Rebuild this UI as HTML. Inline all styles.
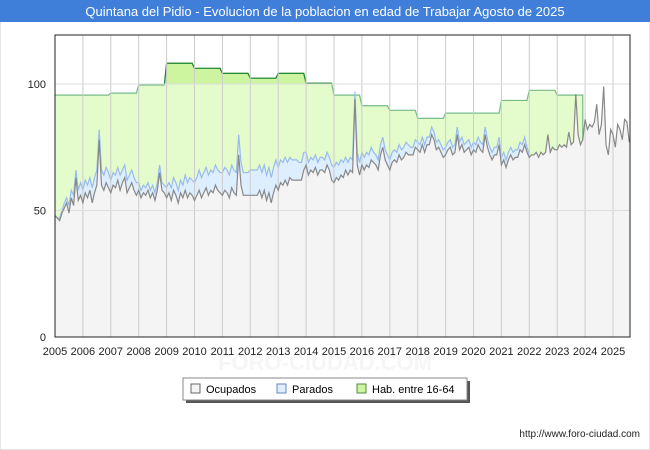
<!DOCTYPE html>
<html><head><meta charset="utf-8"><style>
body{margin:0;background:#fff;font-family:"Liberation Sans",sans-serif}
#wrap{position:relative;width:650px;height:450px;overflow:hidden}
</style></head><body>
<div id="wrap">
<svg id="svg" width="650" height="450" xmlns="http://www.w3.org/2000/svg">
<rect x="0" y="0" width="650" height="450" fill="#fff" stroke="#ccc"/>
<rect x="0" y="0" width="650" height="22" fill="#3f7fd9"/>
<text x="325" y="16" text-anchor="middle" font-size="13" fill="#fff">Quintana del Pidio - Evolucion de la poblacion en edad de Trabajar Agosto de 2025</text>
<text x="325" y="370" text-anchor="middle" font-size="22" font-weight="bold" fill="#f6f6f6">FORO-CIUDAD.COM</text>
<g id="plot"></g>
<rect x="186" y="381" width="284" height="22" fill="#555"/>
<rect x="183" y="378" width="284" height="22" fill="#fff" stroke="#888"/>
<rect x="191" y="384" width="9" height="9" fill="#f4f4f4" stroke="#666"/>
<text x="206" y="393" font-size="11">Ocupados</text>
<rect x="277" y="384" width="9" height="9" fill="#ddeeff" stroke="#6688bb"/>
<text x="292" y="393" font-size="11">Parados</text>
<rect x="357" y="384" width="9" height="9" fill="#ccf5a0" stroke="#558844"/>
<text x="372" y="393" font-size="11">Hab. entre 16-64</text>
<text x="640" y="437" text-anchor="end" font-size="10" fill="#222">http://www.foro-ciudad.com</text>
</svg>
</div>
<script>
const years=[2005,2006,2007,2008,2009,2010,2011,2012,2013,2014,2015,2016,2017,2018,2019,2020,2021,2022,2023,2024,2025];
const yTicks=[0,50,100];
const hab=[95.6,95.6,96.4,99.6,108.2,106.2,104.2,102.3,104.2,100.3,95.6,91.4,89.6,86.4,88.5,88.5,93.5,97.5,95.6];
const ocupados=[
48,47,46,49,51,53,49,55,52,63,54,56,
53,57,55,58,53,57,60,78,60,58,61,59,
57,60,59,62,58,61,63,57,59,61,58,56,
58,55,57,56,58,55,57,54,58,65,58,57,
55,57,54,58,56,53,57,55,58,55,57,56,
54,56,58,55,57,59,56,58,57,60,58,57,
56,58,57,55,59,57,56,72,60,56,56,56,
56,56,56,56,58,55,58,54,57,53,57,60,
58,61,60,62,60,63,62,62,62,62,62,66,
68,64,66,65,67,64,66,66,65,68,66,62,
61,63,62,64,63,66,64,66,65,94,68,64,
68,66,68,67,70,69,68,66,72,75,70,68,
66,69,70,69,72,70,71,73,72,72,72,75,
74,73,76,73,76,76,80,78,74,75,73,71,
72,74,75,72,73,80,74,76,73,74,75,72,
74,73,76,74,73,80,75,72,70,72,72,76,
68,70,67,70,72,70,71,71,74,73,76,73,
71,72,72,73,71,73,72,73,80,73,75,74,
74,76,75,76,75,81,76,77,96,80,76,78,
86,82,84,83,85,92,80,84,99,76,72,82,
80,75,84,82,78,86,85,77];
const parados=[
0,0,1,1,2,2,3,3,4,3,4,5,
5,5,5,5,6,6,6,4,6,6,6,6,
5,5,5,5,6,5,5,5,5,5,5,5,
3,3,3,3,3,3,3,3,3,3,3,3,
4,4,5,5,5,5,5,5,6,6,6,6,
7,7,8,8,8,8,8,8,8,8,8,8,
9,9,9,9,9,9,9,8,9,9,9,9,
10,10,10,10,10,10,10,10,10,10,10,10,
9,9,9,9,9,8,8,8,8,7,7,7,
5,5,5,5,5,5,5,5,5,5,5,6,
6,6,6,6,6,5,5,5,5,3,5,5,
5,5,5,5,5,4,4,4,4,4,4,4,
4,4,4,4,4,4,4,4,4,3,3,3,
3,3,3,3,3,3,3,3,3,3,3,3,
3,3,3,3,3,3,3,3,3,3,3,3,
3,3,3,3,3,3,3,3,3,3,3,3,
3,3,3,3,3,3,3,3,3,3,3,2,
1];
const NS='http://www.w3.org/2000/svg';
const X0=55,X1=630,Y0=337,YT=35,PX=27.9;
function xm(i){return X0+i*PX/12;}
function xy(y){return X0+(y-2005)*PX;}
function yv(v){return Y0-v*(Y0-84)/100;}
const g=document.getElementById('plot');
function mk(t,a){const e=document.createElementNS(NS,t);for(const k in a)e.setAttribute(k,a[k]);g.appendChild(e);return e;}
const bg=mk('rect',{x:X0,y:YT,width:X1-X0,height:Y0-YT,fill:'#fff'});


const defs=mk('defs',{});
const cp=document.createElementNS(NS,'clipPath');cp.setAttribute('id','above');
const cr=document.createElementNS(NS,'rect');cr.setAttribute('x',X0);cr.setAttribute('y',YT);cr.setAttribute('width',X1-X0);cr.setAttribute('height',yv(100)-YT);
cp.appendChild(cr);defs.appendChild(cp);
const habPts=[];
hab.forEach((v,k)=>{for(let m=0;m<12;m++)habPts.push([xm(k*12+m),yv(v)]);});
const lastHx=habPts[habPts.length-1][0];
const habPoly=habPts.map(p=>p.join(',')).join(' ')+' '+lastHx+','+yv(ocupados[hab.length*12-1])+' '+lastHx+','+Y0+' '+X0+','+Y0;
const h1=mk('polygon',{points:habPoly,fill:'#e4fccc'});


const h2=mk('polygon',{points:habPoly,fill:'#cdf5a0','clip-path':'url(#above)'});


const hl=mk('polyline',{points:habPts.map(p=>p.join(',')).join(' ')+' '+lastHx+','+yv(ocupados[hab.length*12-1]),fill:'none',stroke:'#77bb88','stroke-width':1.2});


const hl2=mk('polyline',{points:habPts.map(p=>p.join(',')).join(' '),fill:'none',stroke:'#228833','stroke-width':1.2,'clip-path':'url(#above)'});


const act=parados.map((p,i)=>[xm(i),yv(ocupados[i]+p)]);
const ap=mk('polygon',{points:act.map(p=>p.join(',')).join(' ')+' '+act[act.length-1][0]+','+Y0+' '+X0+','+Y0,fill:'#ddeeff'});


const al=mk('polyline',{points:act.map(p=>p.join(',')).join(' '),fill:'none',stroke:'#99bbee','stroke-width':1.2});


const oc=ocupados.map((v,i)=>[xm(i),yv(v)]);
const op=mk('polygon',{points:oc.map(p=>p.join(',')).join(' ')+' '+oc[oc.length-1][0]+','+Y0+' '+X0+','+Y0,fill:'#f4f4f4'});


years.forEach(y=>{const x=xy(y);
 const l=mk('line',{x1:x,x2:x,y1:YT,y2:Y0,stroke:'#ccc','stroke-width':1});
 
 
 const t=mk('text',{x:x,y:355,'text-anchor':'middle','font-size':11,fill:'#222'});t.textContent=y;
 
 
});
yTicks.forEach(v=>{const y=yv(v);
 const l=mk('line',{x1:X0,x2:X1,y1:y,y2:y,stroke:'#ddd','stroke-width':1});
 
 
 const t=mk('text',{x:46,y:y+4,'text-anchor':'end','font-size':11,fill:'#222'});t.textContent=v;
 
 
});
const ol=mk('polyline',{points:oc.map(p=>p.join(',')).join(' '),fill:'none',stroke:'#888','stroke-width':1.2});


const fr=mk('rect',{x:X0,y:YT,width:X1-X0,height:Y0-YT,fill:'none',stroke:'#222','stroke-width':1});


</script>
</body></html>
